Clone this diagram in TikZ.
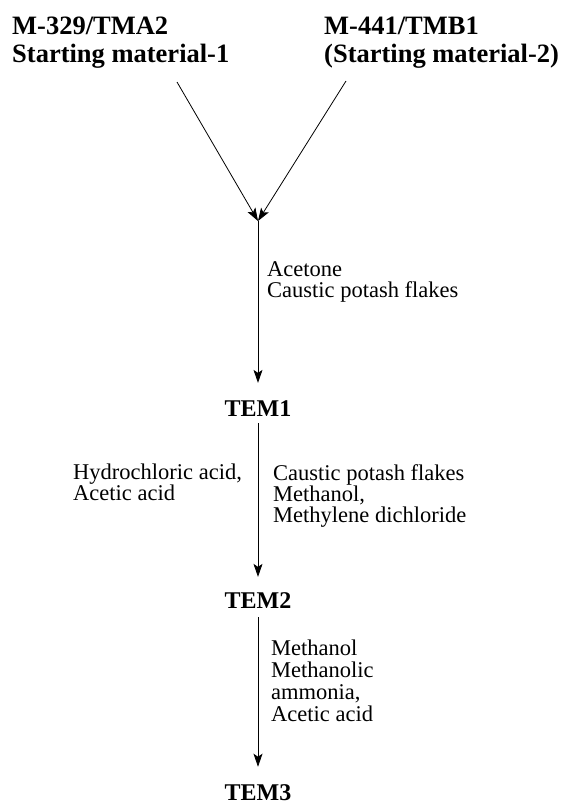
\documentclass[tikz,border=0pt]{standalone}
\usepackage{fontspec}
\setmainfont{Liberation Serif}
\usetikzlibrary{arrows.meta}

\newcommand\condfont{\fontsize{22.5}{21}\selectfont\setlength{\lineskiplimit}{-8pt}}

\begin{document}
\begin{tikzpicture}[x=1pt, y=-1pt,
  arr/.style={-{Stealth[length=13pt, width=9pt, inset=3pt]}, line width=0.8pt},
  start/.style={font=\fontsize{26.5}{27.5}\selectfont\bfseries, align=left, anchor=north west, inner sep=0pt},
  prod/.style={font=\fontsize{24}{28}\selectfont\bfseries, inner sep=0pt},
  cond/.style={font=\condfont, align=left, anchor=north west, inner sep=0pt}
]
\useasboundingbox (0,0) rectangle (565,807);

% Starting materials
\node[start] (sm1) at (12,17) {M-329/TMA2\\Starting material-1};
\node[start] (sm2) at (324,17) {M-441/TMB1\\(Starting material-2)};

% Products
\node[prod] (tem1) at (258,409) {TEM1};
\node[prod] (tem2) at (258,601) {TEM2};
\node[prod] (tem3) at (258,793) {TEM3};

% Meeting point of the two starting materials
\coordinate (a1) at (177,82);
\coordinate (a2) at (346,81);
\coordinate (j) at (258,221);

\draw[arr] (a1) -- (j);
\draw[arr] (a2) -- (j);
\draw[arr, shorten >=18pt] (j) -- (tem1);
\draw[arr, shorten <=6pt, shorten >=16pt] (tem1) -- (tem2);
\draw[arr, shorten <=8pt, shorten >=18pt] (tem2) -- (tem3);

% Reagents
\node[cond] (c1) at (267,261) {Acetone\\Caustic potash flakes};
\node[cond] (c2) at (73,464) {Hydrochloric acid,\\Acetic acid};
\node[cond] (c3) at (273,464) {Caustic potash flakes\\Methanol,\\Methylene dichloride};
\node[cond, font=\fontsize{22.5}{22}\selectfont] (c4) at (271,640) {Methanol\\Methanolic\\ammonia,\\Acetic acid};

\end{tikzpicture}
\end{document}
